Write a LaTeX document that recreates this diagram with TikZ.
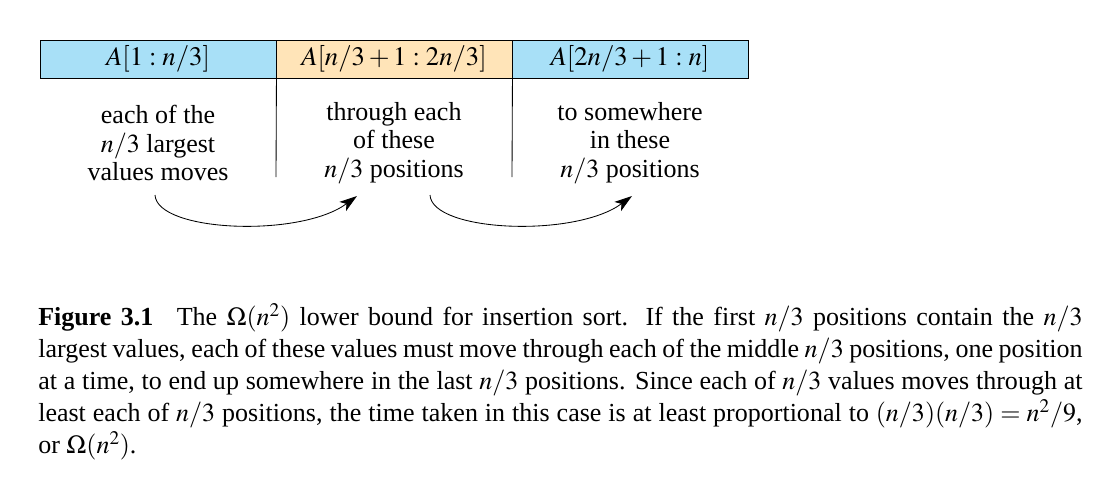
\documentclass[tikz,border=0pt]{standalone}
\usepackage{mathptmx}
\usepackage{fontspec}
\setmainfont{Liberation Serif}
\usetikzlibrary{arrows.meta,positioning}
\definecolor{cellblue}{RGB}{168,224,247}
\definecolor{cellorange}{RGB}{255,228,184}

\begin{document}
\begin{tikzpicture}[x=0.025cm,y=-0.025cm]
	\tikzstyle{Cell}	= [draw, line width=0.6pt, minimum width=5.9cm, minimum height=0.95cm, inner sep=0pt, font=\fontsize{19}{20}\selectfont]
	\tikzstyle{Blue}	= [fill=cellblue]
	\tikzstyle{Orange}	= [fill=cellorange]
	\tikzstyle{Note}	= [align=center, inner sep=0pt, font=\fontsize{18.5}{20.3}\selectfont]
	\tikzstyle{Rule}	= [line width=0.6pt]
	\tikzstyle{Move}	= [line width=0.6pt, -{Stealth[length=4.4mm, width=2.8mm, inset=1.1mm]}]
	\tikzstyle{Caption}	= [anchor=north west, text width=26.1cm, align=justify, inner sep=0pt, font=\fontsize{18.5}{22.8}\selectfont]

	\useasboundingbox (0,0) rectangle (1113,480);

	\node (h1) at (158,59) [Cell, Blue] {$A[1:n/3]$};
	\node (h2) at (394,59) [Cell, Orange] {$A[n/3+1:2n/3]$};
	\node (h3) at (630,59) [Cell, Blue] {$A[2n/3+1:n]$};

	\node (t1) at (158,143) [Note] {each of the\\$n/3$ largest\\values moves};
	\node (t2) at (394,143) [Note] {through each\\of these\\$n/3$ positions};
	\node (t3) at (630,143) [Note] {to somewhere\\in these\\$n/3$ positions};

	\coordinate (b1) at (276,177);
	\coordinate (b2) at (512,177);
	\draw [-] (h1.south east) to (b1) [Rule];
	\draw [-] (h2.south east) to (b2) [Rule];

	\coordinate (s1) at (155,195);
	\coordinate (e1) at (357,196);
	\coordinate (s2) at (430,195);
	\coordinate (e2) at (632,196);
	\draw (s1) .. controls (157,232) and (300,238) .. (e1) [Move];
	\draw (s2) .. controls (432,232) and (575,238) .. (e2) [Move];

	\node (cap) at (38,303) [Caption] {\textbf{Figure 3.1}\hspace{0.9em}The $\Omega(n^2)$ lower bound for insertion sort. If the first $n/3$ positions contain the $n/3$\linebreak largest values, each of these values must move through each of the middle $n/3$ positions, one position\linebreak at a time, to end up somewhere in the last $n/3$ positions. Since each of $n/3$ values moves through at\linebreak least each of $n/3$ positions, the time taken in this case is at least proportional to $(n/3)(n/3)=n^2/9$,\linebreak or $\Omega(n^2)$.};
\end{tikzpicture}
\end{document}
